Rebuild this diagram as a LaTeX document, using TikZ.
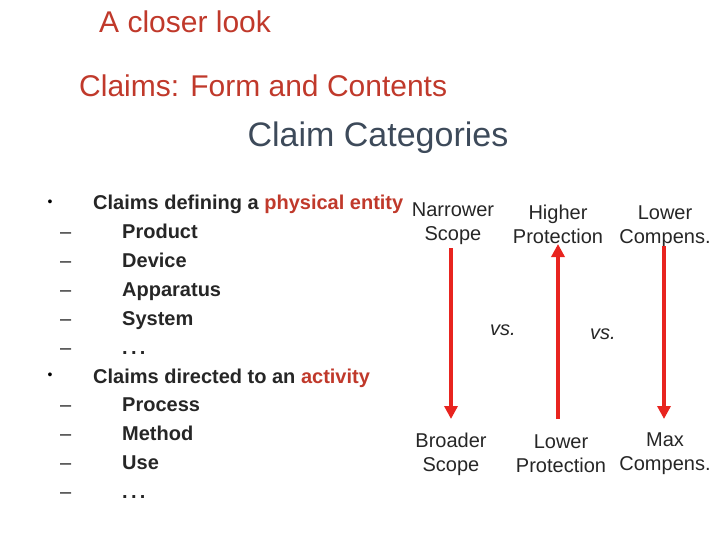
\documentclass[tikz,border=0pt]{standalone}
\usepackage{fontspec}
\setmainfont{Liberation Sans}
\usetikzlibrary{arrows.meta}
\definecolor{myred}{HTML}{C0392B}
\definecolor{arrred}{HTML}{E8241F}
\definecolor{slate}{HTML}{3D4A5A}
\begin{document}
\begin{tikzpicture}[x=1pt,y=-1pt,
  lst/.style={anchor=base west,font=\bfseries\fontsize{20}{24}\selectfont,text=black!85,inner sep=0},
  rt/.style={font=\fontsize{20}{24}\selectfont,text=black!85,inner sep=0,align=center},
  arr/.style={draw=arrred,line width=3.5pt,-{Triangle[length=13pt,width=13pt]}}]
\useasboundingbox (0,0) rectangle (720,540);
\node[anchor=west,inner sep=0,text=myred,font=\fontsize{30}{34}\selectfont] (t1) at (99,22) {A closer look};
\node[anchor=west,inner sep=0,text=myred,font=\fontsize{30}{34}\selectfont] (t2) at (79,86) {Claims: Form and Contents};
\node[inner sep=0,text=slate,font=\fontsize{34}{38}\selectfont] (t3) at (378,138) {Claim Categories};
\node[inner sep=0,font=\fontsize{14}{16}\selectfont] (b1) at (50,203) {•};
\node[inner sep=0,font=\fontsize{14}{16}\selectfont] (b2) at (50,376) {•};
\node[lst] (l1) at (93,210) {Claims defining a \textcolor{myred}{physical entity}};
\node[lst] (l7) at (93,383) {Claims directed to an \textcolor{myred}{activity}};
\foreach \y/\t [count=\i] in {231/{Product},260/{Device},289/{Apparatus},318/{System},347/{{.\,.\,.}},404/{Process},433/{Method},462/{Use},491/{{.\,.\,.}}}{
  \node[lst,font=\fontsize{20}{24}\selectfont] (d\i) at (60,\y+7) {–};
  \node[lst] (i\i) at (122,\y+7) {\t};
}
\node[rt] (n1) at (453,224) {Narrower\\Scope};
\node[rt] (n2) at (558,224) {Higher\\Protection};
\node[rt] (n3) at (665,227) {Lower\\Compens.};
\node[rt] (s1) at (451,454) {Broader\\Scope};
\node[rt] (s2) at (561,454) {Lower\\Protection};
\node[rt] (s3) at (665,454) {Max\\Compens.};
\node[rt,font=\itshape\fontsize{20}{24}\selectfont] (v1) at (503,330) {vs.};
\node[rt,font=\itshape\fontsize{20}{24}\selectfont] (v2) at (603,334) {vs.};
\coordinate (a1) at (451,248); \coordinate (a2) at (451,419);
\coordinate (c1) at (558,419); \coordinate (c2) at (558,244);
\coordinate (e1) at (664,246); \coordinate (e2) at (664,419);
\draw[arr] (a1) -- (a2);
\draw[arr] (c1) -- (c2);
\draw[arr] (e1) -- (e2);
\end{tikzpicture}
\end{document}
